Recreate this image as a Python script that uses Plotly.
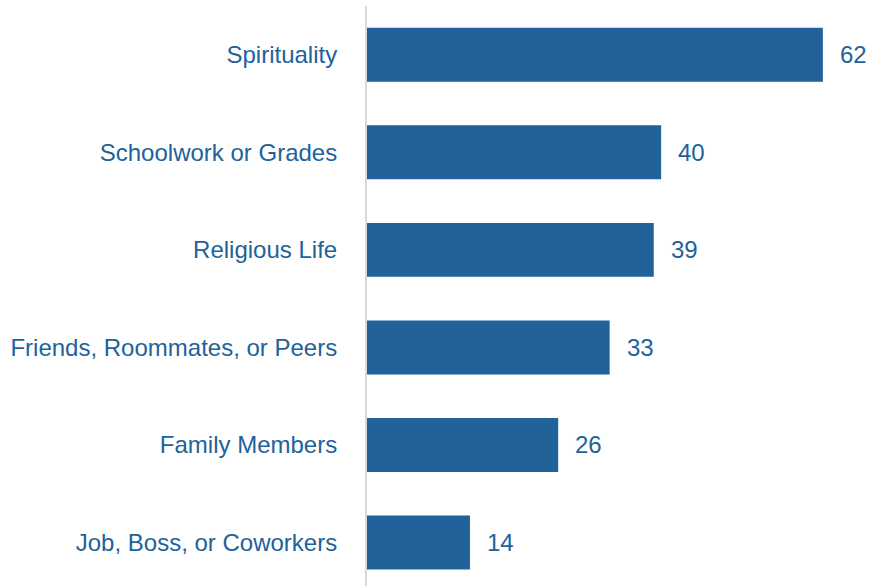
import plotly.graph_objects as go

# Share of respondents by source of stress
categories = [
    "Spirituality",
    "Schoolwork or Grades",
    "Religious Life",
    "Friends, Roommates, or Peers",
    "Family Members",
    "Job, Boss, or Coworkers",
]
values = [62, 40, 39, 33, 26, 14]

BLUE = "#21629B"
FONT = "Liberation Sans, Arial, sans-serif"

fig = go.Figure(
    go.Bar(
        x=values,
        y=categories,
        orientation="h",
        marker=dict(color=BLUE, line=dict(width=0)),
        hoverinfo="skip",
    )
)

# Value labels just right of each bar end
for cat, val in zip(categories, values):
    fig.add_annotation(
        x=val, y=cat, text=str(val), showarrow=False,
        xanchor="left", yanchor="middle", xshift=15,
        font=dict(family=FONT, size=24, color=BLUE),
    )

fig.update_layout(
    width=869,
    height=586,
    margin=dict(l=367, r=2, t=6, b=0),
    paper_bgcolor="white",
    plot_bgcolor="white",
    showlegend=False,
    bargap=0.447,
    font=dict(family=FONT, size=24, color=BLUE),
    xaxis=dict(
        range=[0, 68], visible=False, showgrid=False, zeroline=False,
    ),
    yaxis=dict(
        type="category",
        categoryorder="array",
        categoryarray=categories,
        range=[5.446, -0.5],
        showline=True,
        linecolor="#D9D9D9",
        linewidth=2,
        showgrid=False,
        zeroline=False,
        ticks="",
        ticklabelstandoff=23,
        tickfont=dict(family=FONT, size=24, color=BLUE),
    ),
)

fig.write_html("out.html")
